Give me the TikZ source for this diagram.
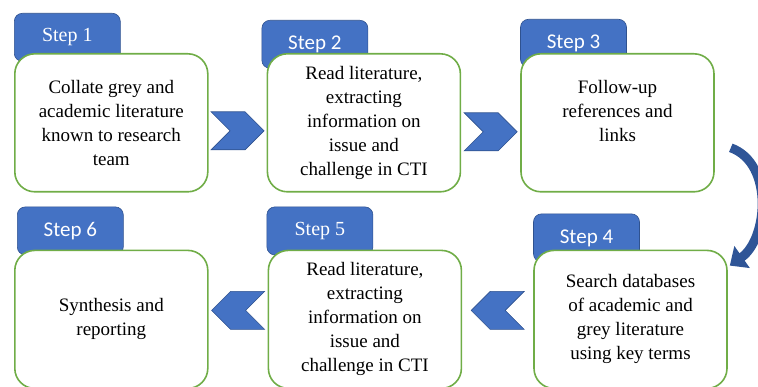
\documentclass[tikz,border=0pt]{standalone}
\usepackage{fontspec}
\setmainfont{Liberation Serif}
\newfontfamily\calibri{Carlito}
\usetikzlibrary{positioning,calc,backgrounds,shapes.symbols,arrows.meta}
\definecolor{tabblue}{HTML}{4472C4}
\definecolor{tabedge}{HTML}{2F528F}
\definecolor{boxgreen}{HTML}{70AD47}
\definecolor{curveblue}{HTML}{2F5597}

\begin{document}
\begin{tikzpicture}[x=1pt,y=1pt,
        stepbox/.style={draw=boxgreen, line width=1.6pt, fill=white, rounded corners=20pt, minimum width=193pt, minimum height=138pt, align=center, font=\fontsize{19}{24}\selectfont},
        tab/.style={draw=tabedge, fill=tabblue, text=white, line width=0.6pt, rounded corners=8pt, minimum width=106pt, minimum height=48pt, anchor=north west, font=\fontsize{20}{22}\selectfont},
        chevron/.style={signal, draw=tabedge, fill=tabblue, line width=0.6pt, minimum width=53pt, minimum height=38pt, inner sep=0pt}]
        \useasboundingbox (0,0) rectangle (758,-387);
        \node[stepbox, anchor=north west] (box1) at (14,-53) {Collate grey and\\academic literature\\known to research\\team};
        \node[stepbox, right=58pt of box1] (box2) {Read literature,\\extracting\\information on\\issue and\\challenge in CTI};
        \node[stepbox, right=59pt of box2] (box3) {Follow-up\\references and\\links\\\mbox{}};
        \node[stepbox, below=57pt of box1] (box6) {Synthesis and\\reporting};
        \node[stepbox, right=59pt of box6] (box5) {Read literature,\\extracting\\information on\\issue and\\challenge in CTI};
        \node[stepbox, right=71pt of box5] (box4) {Search databases\\of academic and\\grey literature\\using key terms};
        \begin{scope}[on background layer]
            \node[tab] (tab1) at ([yshift=40pt]box1.north west) {Step 1};
            \node[tab] (tab2) at ([xshift=-5pt,yshift=33pt]box2.north west) {\calibri\fontsize{21}{22}\selectfont Step 2};
            \node[tab] (tab3) at ([yshift=34pt]box3.north west) {\calibri\fontsize{21}{22}\selectfont Step 3};
            \node[tab] (tab4) at ([yshift=36pt]box4.north west) {\calibri\fontsize{21}{22}\selectfont Step 4};
            \node[tab] (tab5) at ([xshift=-1pt,yshift=43pt]box5.north west) {Step 5};
            \node[tab] (tab6) at ([xshift=3pt,yshift=43pt]box6.north west) {\calibri\fontsize{21}{22}\selectfont Step 6};
        \end{scope}
        \node[chevron, signal from=west, signal to=east] (chev12) at ([yshift=-8pt]$(box1.east)!0.5!(box2.west)$) {};
        \node[chevron, signal from=west, signal to=east] (chev23) at ([yshift=-9pt]$(box2.east)!0.5!(box3.west)$) {};
        \node[chevron, signal from=east, signal to=west] (chev54) at ([yshift=9pt]$(box5.east)!0.5!(box4.west)$) {};
        \node[chevron, signal from=east, signal to=west] (chev65) at ([yshift=9pt]$(box6.east)!0.5!(box5.west)$) {};
        \draw[curveblue, line width=9pt, -{Triangle[length=15pt,width=26pt]}] ([xshift=16pt,yshift=-25pt]box3.east) to[out=-20,in=35] ([xshift=2pt,yshift=-16pt]box4.north east);
    \end{tikzpicture}
\end{document}
